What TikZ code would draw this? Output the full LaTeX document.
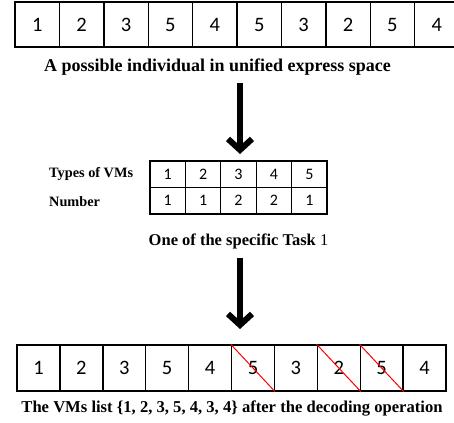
\documentclass[tikz,border=0pt]{standalone}
\usepackage{fontspec}
\setmainfont{Liberation Serif}
\newfontfamily\numf{Carlito}
\usetikzlibrary{arrows.meta}
\begin{document}
\begin{tikzpicture}[x=1pt,y=-1pt,
  bigcell/.style={draw,line width=1.4pt,minimum width=44.4pt,minimum height=45pt,inner sep=0pt,font=\numf\fontsize{20.5}{20}\selectfont},
  botcell/.style={draw,line width=1.4pt,minimum width=42.9pt,minimum height=46pt,inner sep=0pt,font=\numf\fontsize{20.5}{20}\selectfont},
  midcell/.style={draw,line width=1.2pt,minimum width=35.4pt,minimum height=26.5pt,inner sep=0pt,font=\numf\fontsize{16}{16}\selectfont},
  caption/.style={inner sep=0pt,font=\bfseries\fontsize{16.5}{17}\selectfont},
  rowlabel/.style={inner sep=0pt,anchor=west,font=\bfseries\fontsize{14.3}{15}\selectfont},
  bigarrow/.style={line width=6pt,-{Straight Barb[length=11pt,width=24pt]}},
  cross/.style={red,line width=1pt}]
\useasboundingbox (0,0) rectangle (454,422);
\begin{scope}
\clip (0,0) rectangle (454,422);
% top row
\foreach \v [count=\i] in {1,2,3,5,4,5,3,2,5,4}
  \node[bigcell] (t\i) at ({15+44.4*(\i-0.5)},24.5) {\v};
\end{scope}
\node[caption,font=\bfseries\fontsize{18}{18}\selectfont] (cap1) at (217.5,67) {A possible individual in unified express space};
% middle table
\foreach \v [count=\i] in {1,2,3,4,5}
  \node[midcell] (m\i) at ({150+35.4*(\i-0.5)},174.2) {\v};
\foreach \v [count=\i] in {1,1,2,2,1}
  \node[midcell] (n\i) at ({150+35.4*(\i-0.5)},200.7) {\v};
\node[rowlabel] (lab1) at (49,174) {Types of VMs};
\node[rowlabel] (lab2) at (49,202) {Number};
\node[caption] (cap2) at (238.5,241) {One of the specific Task \textmd{1}};
% bottom row
\foreach \v [count=\i] in {1,2,3,5,4,5,3,2,5,4}
  \node[botcell] (b\i) at ({17+42.9*(\i-0.5)},368) {\v};
\foreach \i in {6,8,9}
  \draw[cross] (b\i.north west) -- (b\i.south east);
\node[caption,font=\bfseries\fontsize{16.6}{17}\selectfont] (cap3) at (232,408) {The VMs list \{1, 2, 3, 5, 4, 3, 4\} after the decoding operation};
% arrows
\coordinate (a1s) at (240,83);
\coordinate (a1e) at (240,154);
\coordinate (a2s) at (240,258);
\coordinate (a2e) at (240,329);
\draw[bigarrow] (a1s) -- (a1e);
\draw[bigarrow] (a2s) -- (a2e);
\end{tikzpicture}
\end{document}
